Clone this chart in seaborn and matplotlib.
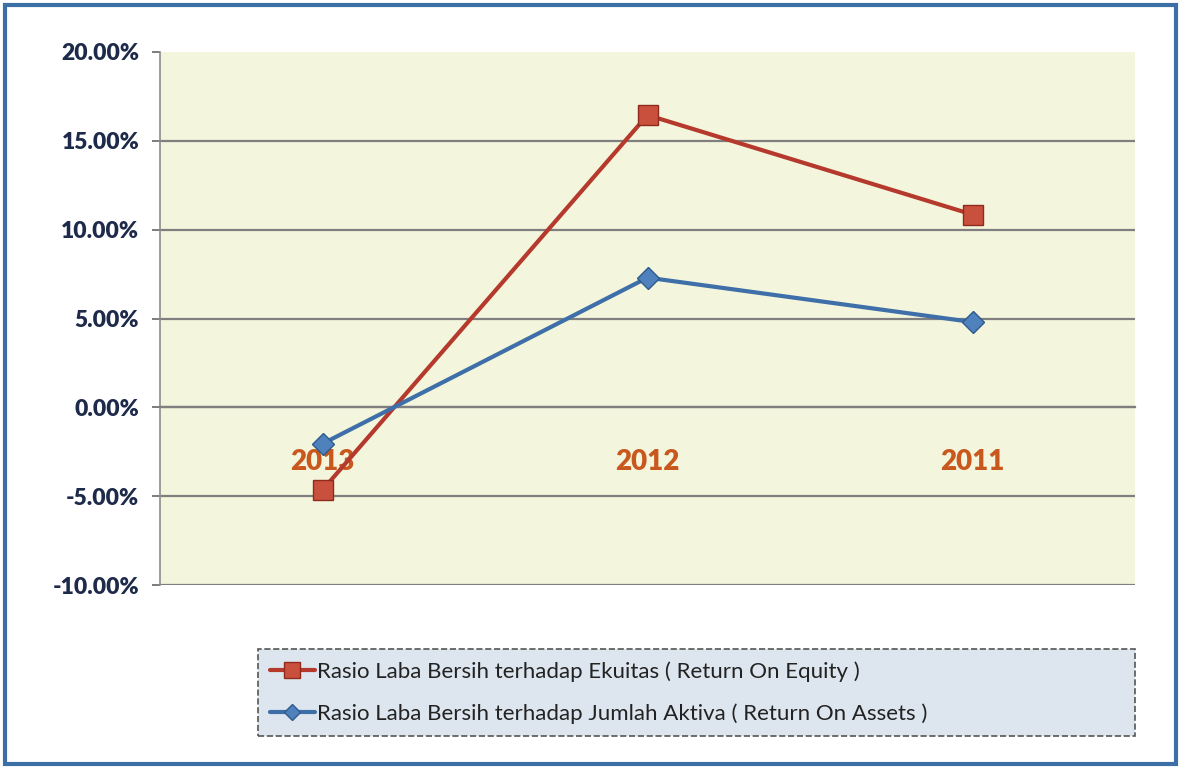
import matplotlib
matplotlib.use("Agg")
import matplotlib.pyplot as plt
import matplotlib.patches as mpatches
from matplotlib.ticker import FuncFormatter, FixedLocator
import seaborn as sns
import pandas as pd

years = ["2013", "2012", "2011"]
roe = [-4.65, 16.45, 10.85]
roa = [-2.05, 7.3, 4.8]
series_names = ["Rasio Laba Bersih terhadap Ekuitas ( Return On Equity )",
                "Rasio Laba Bersih terhadap Jumlah Aktiva ( Return On Assets )"]
y_ticks = [-10, -5, 0, 5, 10, 15, 20]

sns.set_theme(style="white")
plt.rcParams['font.family'] = ['Lato', 'DejaVu Sans']

df = pd.DataFrame({
    "pos": list(range(len(years))) * 2,
    "value": roe + roa,
    "series": [series_names[0]] * len(years) + [series_names[1]] * len(years),
})

fig = plt.figure(figsize=(11.81, 7.69), dpi=100)
fig.patch.set_facecolor("white")
ax = fig.add_axes([160/1181, 1-585/769, (1135-160)/1181, (585-52)/769])
ax.set_facecolor("#F3F6DC")

palette = {series_names[0]: "#B5392C", series_names[1]: "#3F6FA8"}
sns.lineplot(data=df, x="pos", y="value", hue="series", style="series",
             markers={series_names[0]: "s", series_names[1]: "D"},
             dashes=False, palette=palette, linewidth=3.0, ax=ax,
             markersize=11, legend=False)
for line, face, edge, ms in zip(ax.lines[:2], ["#C9503C", "#4F81BD"], ["#8E2A1E", "#2E5A8C"], [14, 11]):
    line.set_markerfacecolor(face)
    line.set_markeredgecolor(edge)
    line.set_markeredgewidth(1.0)
    line.set_markersize(ms)
    line.set_zorder(5)

ax.set_xlim(-0.5, 2.5)
ax.set_ylim(-10, 20)
ax.set_xlabel("")
ax.set_ylabel("")

ax.yaxis.set_major_locator(FixedLocator(y_ticks))
ax.yaxis.set_major_formatter(FuncFormatter(lambda v, p: f"{v:.2f}%"))
for t in y_ticks:
    if t != 20:
        ax.axhline(t, color="#7F7F7F", linewidth=1.6, zorder=1)

ax.set_xticks(range(len(years)))
ax.set_xticklabels(years)
ax.set_xticks([0.5, 1.5], minor=True)
ax.spines['bottom'].set_position(('data', 0))
ax.spines['bottom'].set_color("#7F7F7F")
ax.spines['bottom'].set_linewidth(1.6)
ax.tick_params(axis='x', which='major', length=0, pad=30)
ax.tick_params(axis='x', which='minor', length=7, width=1.2, color="#555555", direction='out')
for lab in ax.get_xticklabels():
    lab.set_fontsize(20)
    lab.set_fontweight("heavy")
    lab.set_color("#C8581E")

ax.spines['top'].set_visible(False)
ax.spines['right'].set_visible(False)
ax.spines['left'].set_color("#8C8C8C")
ax.spines['left'].set_linewidth(1.2)
ax.tick_params(axis='y', which='major', length=6, width=1.2, color="#666666",
               direction='out', pad=9, labelsize=16.5, labelcolor="#1E2A4A", left=True)
for lab in ax.get_yticklabels():
    lab.set_fontweight("heavy")

# outer frame
fig.add_artist(mpatches.Rectangle((0.004, 0.006), 0.992, 0.988, transform=fig.transFigure,
                                  fill=False, edgecolor="#3B6FA5", linewidth=3))

# legend
handles = [plt.Line2D([], [], color="#B5392C", lw=3.0, marker="s", markersize=11,
                      markerfacecolor="#C9503C", markeredgecolor="#8E2A1E"),
           plt.Line2D([], [], color="#3F6FA8", lw=3.0, marker="D", markersize=8,
                      markerfacecolor="#4F81BD", markeredgecolor="#2E5A8C")]
leg = fig.legend(handles, series_names, loc="center left",
                 bbox_to_anchor=(258/1181, 1-737/769, (1135-258)/1181, (737-648)/769),
                 mode="expand", frameon=True, fontsize=16, handlelength=2.0,
                 handletextpad=0.1, labelspacing=0.95, borderaxespad=0, fancybox=False,
                 borderpad=0.55)
fr = leg.get_frame()
fr.set_facecolor("#DDE6EE")
fr.set_edgecolor("#555555")
fr.set_linestyle("--")
fr.set_linewidth(1.2)
fr.set_alpha(1)
for t in leg.get_texts():
    t.set_color("#222222")

fig.savefig("out.png", dpi=100)
